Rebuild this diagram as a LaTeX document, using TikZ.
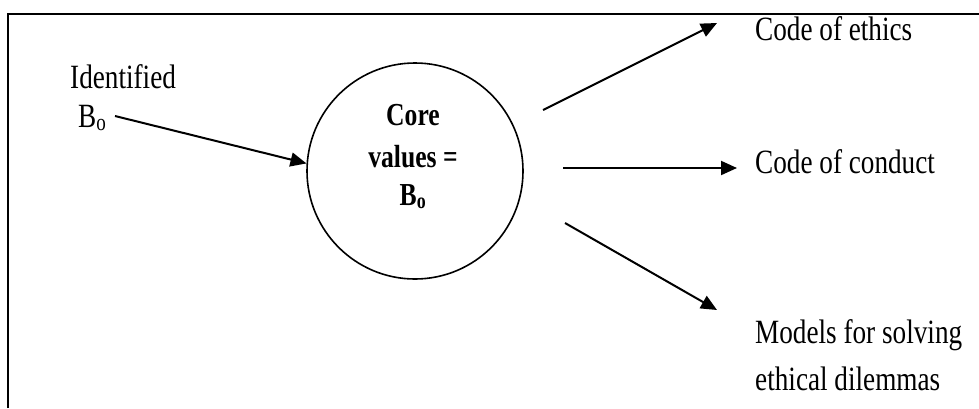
\documentclass[tikz,border=0pt]{standalone}
\usepackage{fontspec}
\setmainfont{Liberation Serif}[FakeStretch=0.8]
\usetikzlibrary{arrows.meta}
\tikzset{
  lbl/.style={inner sep=0pt, anchor=base west, font=\fontsize{34}{40}\selectfont},
  corelbl/.style={inner sep=0pt, anchor=base, font=\fontsize{32}{40}\selectfont\bfseries},
  arr/.style={line width=2pt, -{Triangle[length=16pt,width=14pt]}},
  frame/.style={line width=2.2pt},
  corecirc/.style={circle, draw, line width=1.6pt, minimum size=216pt, inner sep=0pt}
}
\begin{document}
\begin{tikzpicture}[x=1pt,y=-1pt]
\useasboundingbox (0,0) rectangle (979,408);
\draw[frame] (8,408) -- (8,14) -- (979,14);
% labels
\node[lbl] (ident) at (70,88) {Identified};
\node[lbl] (bo) at (78,127) {B\textsubscript{o}};
\node[corecirc] (core) at (415,171) {};
\node[corelbl] (c1) at (413,125) {Core};
\node[corelbl] (c2) at (413,167) {values =};
\node[corelbl] (c3) at (413,205) {B\textsubscript{o}};
\node[lbl] (ethics) at (755,40) {Code of ethics};
\node[lbl] (conduct) at (755,173) {Code of conduct};
\node[lbl] (models1) at (755,343) {Models for solving};
\node[lbl] (models2) at (755,390) {ethical dilemmas};
% connectors
\coordinate (inS) at (115,116);
\coordinate (o1S) at (543,110);
\coordinate (o1E) at (717,23);
\coordinate (o2S) at (563,168);
\coordinate (o2E) at (737,168);
\coordinate (o3S) at (565,223);
\coordinate (o3E) at (717,310);
\draw[arr] (inS) -- (core.176);
\draw[arr] (o1S) -- (o1E);
\draw[arr] (o2S) -- (o2E);
\draw[arr] (o3S) -- (o3E);
\end{tikzpicture}
\end{document}
